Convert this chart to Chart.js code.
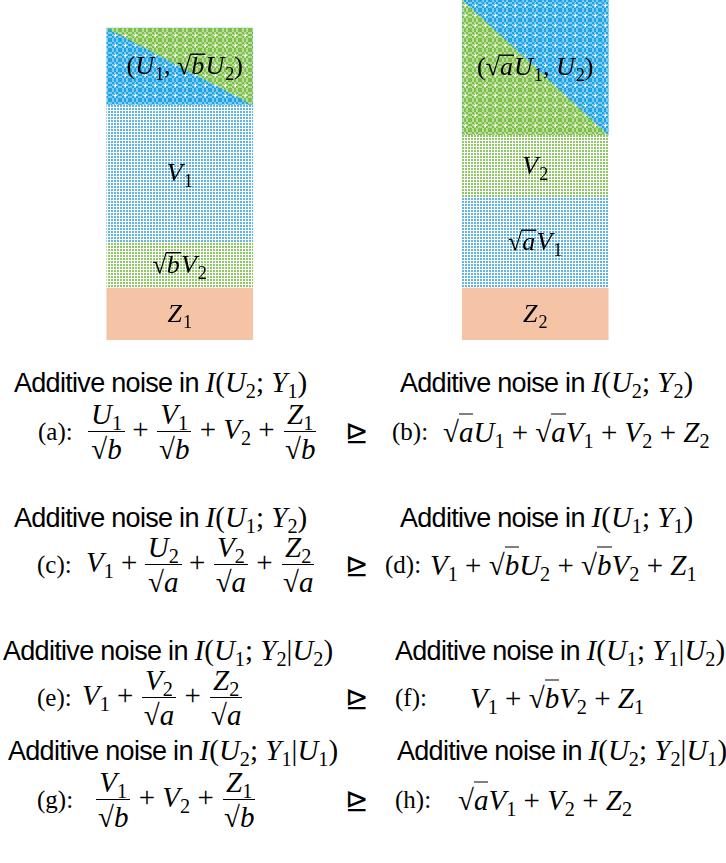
<!DOCTYPE html>
<html>
<head>
<meta charset="utf-8">
<script src="https://cdn.jsdelivr.net/npm/chart.js@4.4.1/dist/chart.umd.min.js"></script>
<style>
  body { margin: 0; background: #fff; }
  #page { position: relative; width: 726px; height: 863px; overflow: hidden; }
  #wrap { position: absolute; left: 0; top: 0; width: 726px; height: 345px; }
  .p { position: absolute; white-space: nowrap; transform: translateY(-50%); color: #000; }
  .head { font-family: "Liberation Sans", sans-serif; font-size: 27px; letter-spacing: -0.7px; }
  .head .m { letter-spacing: 0; }
  .m { font-family: "Liberation Serif", serif; font-size: 29px; }
  .tag { font-family: "Liberation Serif", serif; font-size: 25px; }
  .m i { font-style: italic; }
  .m sub { font-size: 70%; vertical-align: -0.3em; line-height: 0; }
  .ol { border-top: 1.4px solid #000; padding-top: 1px; }
  .fr { display: inline-flex; flex-direction: column; align-items: center; vertical-align: middle; line-height: 1.0; }
  .fr .num { border-bottom: 1.5px solid #000; padding: 0 3px 2px; }
  .fr .den { padding: 3px 3px 0; }
  .rel { font-family: "DejaVu Sans", sans-serif; font-size: 28px; }
</style>
</head>
<body>
<div id="page">
  <div id="wrap"><canvas id="c"></canvas></div>
</div>
<script>
// two stacked columns: noise seen at receiver 1 (left) and receiver 2 (right)
const columns = ['Y1', 'Y2'];
const zNoise = [52, 52];
const lowerNoise = [46, 91];
const middleNoise = [137, 62];
const topSignal = [77, 135];

const zLabels = ['Z_1', 'Z_2'];
const lowerLabels = ['√{b}V_2', '√{a}V_1'];
const middleLabels = ['V_1', 'V_2'];
const topLabels = ['(U_1, √{b}U_2)', '(√{a}U_1, U_2)'];
const splitCorner = ['upper', 'lower']; // where the green triangle sits in the top block

// text under the chart
const headsLeft = ['I(U_2; Y_1)', 'I(U_1; Y_2)', 'I(U_1; Y_2|U_2)', 'I(U_2; Y_1|U_1)'];
const headsRight = ['I(U_2; Y_2)', 'I(U_1; Y_1)', 'I(U_1; Y_1|U_2)', 'I(U_2; Y_2|U_1)'];
const tagsLeft = ['(a):', '(c):', '(e):', '(g):'];
const tagsRight = ['(b):', '(d):', '(f):', '(h):'];
const exprLeft = [
  '[U_1/√{b}] + [V_1/√{b}] + V_2 + [Z_1/√{b}]',
  'V_1 + [U_2/√{a}] + [V_2/√{a}] + [Z_2/√{a}]',
  'V_1 + [V_2/√{a}] + [Z_2/√{a}]',
  '[V_1/√{b}] + V_2 + [Z_1/√{b}]'
];
const exprRight = [
  '√{a}U_1 + √{a}V_1 + V_2 + Z_2',
  'V_1 + √{b}U_2 + √{b}V_2 + Z_1',
  'V_1 + √{b}V_2 + Z_1',
  '√{a}V_1 + V_2 + Z_2'
];

// layout of the text block
const headY = [382, 517, 650, 750];
const formY = [432, 565, 698, 800];
const headXL = [14, 14, 3, 8];
const headXR = [400, 400, 395, 397];
const tagXL = [38, 37, 37, 37];
const exprXL = [88, 86, 82, 95];
const tagXR = [392, 385, 395, 395];
const exprXR = [443, 430, 470, 458];
const relX = 345;

const BLUE = '#1fa3e2', BLUE2 = '#7fcaf0';
const GREEN = '#7dbf4b', GREEN2 = '#b9dd98';

function tile(w, h, draw) {
  const c = document.createElement('canvas');
  c.width = w; c.height = h;
  draw(c.getContext('2d'));
  return document.createElement('canvas').getContext('2d').createPattern(c, 'repeat');
}

// dense checker with white crosses (signal blocks)
function checkerPattern(dark, light) {
  return tile(10, 10, g => {
    g.fillStyle = light; g.fillRect(0, 0, 10, 10);
    g.fillStyle = dark;
    for (let y = 0; y < 10; y += 2)
      for (let x = 0; x < 10; x += 2)
        if (((x + y) / 2) % 2 === 0) g.fillRect(x, y, 2, 2);
    g.fillStyle = '#fff';
    g.fillRect(4, 5, 3, 1); g.fillRect(5, 4, 1, 3);
  });
}

// sparse dots on white (noise blocks)
function dotPattern(color) {
  return tile(3, 3, g => {
    g.fillStyle = '#fff'; g.fillRect(0, 0, 3, 3);
    g.fillStyle = color; g.fillRect(0, 0, 2, 2);
  });
}

const bluePat = checkerPattern(BLUE, BLUE2);
const greenPat = checkerPattern(GREEN, GREEN2);
const blueDots = dotPattern('#62b6e4');
const greenDots = dotPattern('#8fc866');
const salmon = '#f5c4a7';

// parse a tiny math syntax: letters italic, _x subscript, √{..} radical with overbar
function parseMath(src) {
  const runs = [];
  let i = 0;
  while (i < src.length) {
    const c = src[i];
    if (c === '_') { runs.push({ t: src[i + 1], sub: true }); i += 2; }
    else if (c === '√') {
      const end = src.indexOf('}', i);
      runs.push({ t: '√' });
      for (const ch of src.slice(i + 2, end)) runs.push({ t: ch, it: /[A-Za-z]/.test(ch), over: true });
      i = end + 1;
    } else { runs.push({ t: c, it: /[A-Za-z]/.test(c) }); i++; }
  }
  return runs;
}

function drawMath(ctx, src, cx, cy, size) {
  const runs = parseMath(src);
  const fontOf = r => (r.it ? 'italic ' : '') + (r.sub ? size * 0.7 : size) + 'px "Liberation Serif"';
  let total = 0;
  runs.forEach(r => { ctx.font = fontOf(r); r.w = ctx.measureText(r.t).width + (r.it && !r.sub ? size * 0.04 : 0); total += r.w; });
  let x = cx - total / 2;
  const base = cy + size * 0.3;
  ctx.fillStyle = '#000';
  ctx.textBaseline = 'alphabetic';
  ctx.textAlign = 'left';
  runs.forEach(r => {
    ctx.font = fontOf(r);
    ctx.fillText(r.t, x, base + (r.sub ? size * 0.22 : 0));
    if (r.over) {
      ctx.fillRect(x - 1, base - size * 0.8, r.w + 1, 1.4);
    }
    x += r.w;
  });
}

function mathHtml(src) {
  return parseMath(src).map(r => {
    let s = r.t === ' ' ? '&nbsp;' : r.t;
    if (r.it) s = '<i>' + s + '</i>';
    if (r.sub) s = '<sub>' + s + '</sub>';
    if (r.over) s = '<span class="ol">' + s + '</span>';
    return s;
  }).join('');
}

function exprHtml(src) {
  return src.split(/(\[[^\]]+\])/).map(part => {
    if (part.startsWith('[')) {
      const [num, den] = part.slice(1, -1).split('/');
      return '<span class="fr"><span class="num">' + mathHtml(num) + '</span><span class="den">' + mathHtml(den) + '</span></span>';
    }
    return mathHtml(part);
  }).join('');
}

const segmentLabels = [zLabels, lowerLabels, middleLabels, topLabels];

const labelPlugin = {
  id: 'segments',
  afterDatasetsDraw(chart) {
    const ctx = chart.ctx;
    ctx.save();
    // green half of the diagonal top block
    chart.getDatasetMeta(3).data.forEach((el, i) => {
      const { x, y, base, width } = el.getProps(['x', 'y', 'base', 'width'], true);
      const l = x - width / 2, r = x + width / 2;
      ctx.beginPath();
      if (splitCorner[i] === 'upper') { ctx.moveTo(l, y); ctx.lineTo(r, y); ctx.lineTo(r, base); }
      else { ctx.moveTo(l, y); ctx.lineTo(l, base); ctx.lineTo(r, base); }
      ctx.closePath();
      ctx.fillStyle = greenPat;
      ctx.fill();
    });
    chart.data.datasets.forEach((ds, d) => {
      chart.getDatasetMeta(d).data.forEach((el, i) => {
        const { x, y, base } = el.getProps(['x', 'y', 'base'], true);
        const dx = d === 3 && i === 0 ? 5 : 0;
        drawMath(ctx, segmentLabels[d][i], x + dx, (y + base) / 2, 26);
      });
    });
    ctx.restore();
  }
};

new Chart(document.getElementById('c'), {
  type: 'bar',
  data: {
    labels: columns,
    datasets: [
      { data: zNoise, backgroundColor: [salmon, salmon] },
      { data: lowerNoise, backgroundColor: [greenDots, blueDots] },
      { data: middleNoise, backgroundColor: [blueDots, greenDots] },
      { data: topSignal, backgroundColor: [bluePat, bluePat] }
    ]
  },
  options: {
    responsive: true,
    maintainAspectRatio: false,
    animation: false,
    layout: { padding: { left: 2, right: 13, top: 0, bottom: 5 } },
    datasets: { bar: { barThickness: 146, borderWidth: 0, borderSkipped: false } },
    plugins: { legend: { display: false }, tooltip: { enabled: false } },
    scales: {
      x: { stacked: true, display: false },
      y: { stacked: true, display: false, min: 0, max: 340 }
    }
  },
  plugins: [labelPlugin]
});

// formula block
const page = document.getElementById('page');
function place(cls, x, y, html) {
  const d = document.createElement('div');
  d.className = 'p ' + cls;
  d.style.left = x + 'px';
  d.style.top = y + 'px';
  d.innerHTML = html;
  page.appendChild(d);
}
for (let r = 0; r < 4; r++) {
  place('head', headXL[r], headY[r], 'Additive noise in <span class="m">' + mathHtml(headsLeft[r]) + '</span>');
  place('head', headXR[r], headY[r], 'Additive noise in <span class="m">' + mathHtml(headsRight[r]) + '</span>');
  place('tag', tagXL[r], formY[r], tagsLeft[r]);
  place('m', exprXL[r], formY[r], exprHtml(exprLeft[r]));
  place('rel', relX, formY[r], '⊵');
  place('tag', tagXR[r], formY[r], tagsRight[r]);
  place('m', exprXR[r], formY[r], exprHtml(exprRight[r]));
}
</script>
</body>
</html>
